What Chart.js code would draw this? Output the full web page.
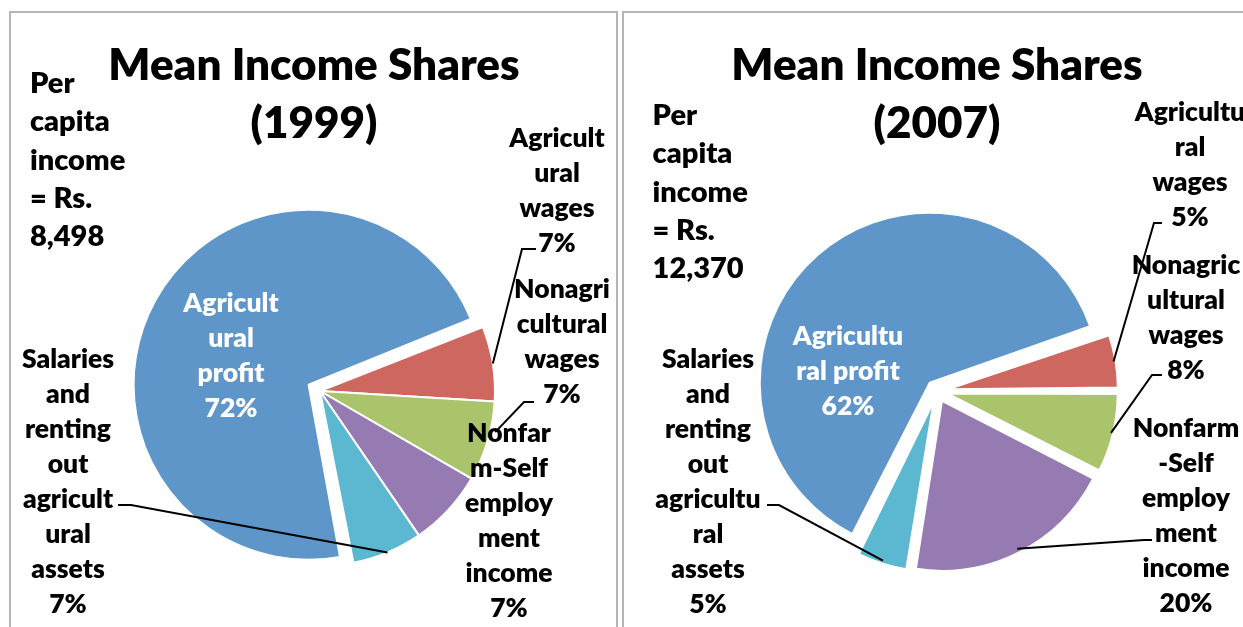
<!DOCTYPE html>
<html><head><meta charset="utf-8">
<script src="https://cdn.jsdelivr.net/npm/chart.js@4.4.1/dist/chart.umd.min.js"></script>
<style>
html,body{margin:0;padding:0;background:#fff;overflow:hidden;width:1243px;height:627px;}
.box{position:absolute;border:2px solid #b5b5b5;box-sizing:border-box;}
canvas{position:absolute;top:0;}
</style></head><body>
<div class="box" style="left:9px;top:11px;width:609px;height:700px"></div>
<div class="box" style="left:622px;top:11px;width:640px;height:700px"></div>
<canvas id="c1" width="620" height="627" style="left:0px"></canvas>
<canvas id="c2" width="623" height="627" style="left:620px"></canvas>
<script>
// ---------------- data ----------------
const categories = ['Agricultural profit', 'Agricultural wages', 'Nonagricultural wages',
  'Nonfarm-Self employment income', 'Salaries and renting out agricultural assets'];
const shares1999 = [72.1, 6.9, 7.4, 7.1, 6.5];
const shares2007 = [62.4, 5.2, 7.6, 19.9, 4.9];
const names1999 = [['Agricult', 'ural', 'profit'], ['Agricult', 'ural', 'wages'], ['Nonagri', 'cultural', 'wages'],
  ['Nonfar', 'm-Self', 'employ', 'ment', 'income'], ['Salaries', 'and', 'renting', 'out', 'agricult', 'ural', 'assets']];
const names2007 = [['Agricultu', 'ral profit'], ['Agricultu', 'ral', 'wages'], ['Nonagric', 'ultural', 'wages'],
  ['Nonfarm', '-Self', 'employ', 'ment', 'income'], ['Salaries', 'and', 'renting', 'out', 'agricultu', 'ral', 'assets']];
const title1999 = ['Mean Income Shares', '(1999)'];
const title2007 = ['Mean Income Shares', '(2007)'];
const perCapita1999 = ['Per', 'capita', 'income', '= Rs.', '8,498'];
const perCapita2007 = ['Per', 'capita', 'income', '= Rs.', '12,370'];

// ---------------- styles / layout ----------------
const colors = ['#5F96C9', '#CD675F', '#AAC46C', '#957BB1', '#5CB8D1'];
const FONT = 'Lato, "Open Sans", sans-serif';
const WEIGHT = '800';

const layout1999 = {
  radius: 175, rotation: 169, offsets: [52, 0, 0, 0, 0],
  padding: {left: 120, right: 100, top: 191, bottom: 36},
  title: {x: 314, y: 80, gap: 58, size: 44},
  note: {x: 30, y: 93, gap: 38.3, size: 29},
  labels: [
    {x: 231, y: 312, color: '#fff'},
    {x: 557, y: 147, leader: {from: [536, 249], knee: [522, 249], da: 0, dr: 0}},
    {x: 562, y: 298, leader: {from: [534, 402], knee: [524, 402], da: -3.5, dr: 5}},
    {x: 509, y: 442},
    {x: 68, y: 368, leader: {from: [118, 505], knee: [131, 505], da: 0, dr: 0}}
  ]
};
const layout2007 = {
  radius: 170, rotation: 206.5, offsets: [44, 44, 44, 44, 44],
  padding: {left: 117, right: 106, top: 191, bottom: 36},
  title: {x: 317, y: 80, gap: 57.5, size: 44},
  note: {x: 32.6, y: 125, gap: 38.25, size: 29},
  labels: [
    {x: 228, y: 345, color: '#fff'},
    {x: 570, y: 121, leader: {from: [542, 223], knee: [534, 223], da: 0, dr: -2}},
    {x: 566, y: 274, leader: {from: [542, 375], knee: [532, 375], da: 0, dr: -2}},
    {x: 566, y: 437, leader: {from: [532, 540], knee: [524, 540], da: 0, dr: -4}},
    {x: 88, y: 367.5, leader: {from: [147, 505], knee: [159, 505], da: 0, dr: -3}}
  ]
};

function annotator(L, title, note, names, values) {
  return {
    id: 'annotator',
    afterDatasetsUpdate(chart) {
      // keep every slice at the same radius (Chart.js enlarges offset slices)
      const meta = chart.getDatasetMeta(0);
      meta.data.forEach(arc => {
        const o = (arc.options.offset || 0) / 4;
        const fix = 1 - Math.sin(Math.min(Math.PI, arc.circumference));
        arc.outerRadius = L.radius - o * fix;
      });
    },
    afterDraw(chart) {
      const ctx = chart.ctx;
      const meta = chart.getDatasetMeta(0);
      ctx.save();
      ctx.fillStyle = '#000';
      ctx.textBaseline = 'alphabetic';
      // title
      ctx.font = WEIGHT + ' ' + L.title.size + 'px ' + FONT;
      ctx.textAlign = 'center';
      title.forEach((t, i) => ctx.fillText(t, L.title.x, L.title.y + i * L.title.gap));
      // per-capita note
      ctx.font = WEIGHT + ' ' + L.note.size + 'px ' + FONT;
      ctx.textAlign = 'left';
      note.forEach((t, i) => ctx.fillText(t, L.note.x, L.note.y + i * L.note.gap));
      // leader lines
      ctx.strokeStyle = '#000';
      ctx.lineWidth = 2;
      L.labels.forEach((p, i) => {
        if (!p.leader) return;
        const arc = meta.data[i];
        const mid = (arc.startAngle + arc.endAngle) / 2 + (p.leader.da || 0) * Math.PI / 180;
        const o = (arc.options.offset || 0) / 4;
        const r = L.radius + o + (p.leader.dr || 0);
        const ex = arc.x + Math.cos(mid) * r, ey = arc.y + Math.sin(mid) * r;
        ctx.beginPath();
        ctx.moveTo(p.leader.from[0], p.leader.from[1]);
        ctx.lineTo(p.leader.knee[0], p.leader.knee[1]);
        ctx.lineTo(ex, ey);
        ctx.stroke();
      });
      // data labels
      ctx.font = WEIGHT + ' 26.5px ' + FONT;
      ctx.textAlign = 'center';
      L.labels.forEach((p, i) => {
        const lines = names[i].concat([Math.round(values[i]) + '%']);
        ctx.fillStyle = p.color || '#000';
        lines.forEach((t, k) => ctx.fillText(t, p.x, p.y + k * 35));
      });
      ctx.restore();
    }
  };
}

function makeChart(id, values, L, title, note, names) {
  return new Chart(document.getElementById(id), {
    type: 'pie',
    data: {
      labels: categories,
      datasets: [{
        data: values,
        backgroundColor: colors,
        borderColor: '#ffffff',
        borderWidth: 2,
        offset: L.offsets,
        hoverOffset: 0
      }]
    },
    options: {
      responsive: false,
      animation: false,
      events: [],
      radius: L.radius,
      rotation: L.rotation,
      layout: {padding: L.padding},
      plugins: {legend: {display: false}, tooltip: {enabled: false}, title: {display: false}}
    },
    plugins: [annotator(L, title, note, names, values)]
  });
}

makeChart('c1', shares1999, layout1999, title1999, perCapita1999, names1999);
makeChart('c2', shares2007, layout2007, title2007, perCapita2007, names2007);
</script>
</body></html>
